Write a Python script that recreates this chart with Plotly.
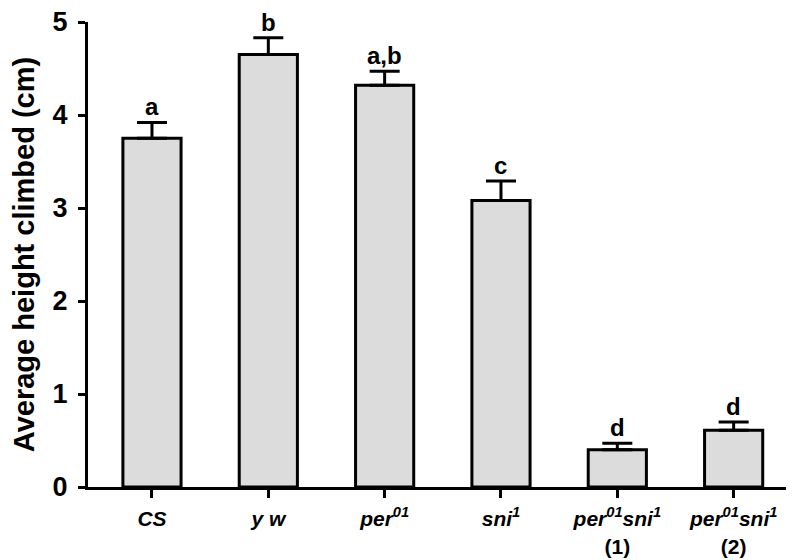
import plotly.graph_objects as go

# data
genotypes = ["CS", "y w", "per01", "sni1", "per01sni1 (1)", "per01sni1 (2)"]
tick_labels = [
    "<b><i>CS</i></b>",
    "<b><i>y w</i></b>",
    "<b><i>per<sup>01</sup></i></b>",
    "<b><i>sni<sup>1</sup></i></b>",
    "<b><i>per<sup>01</sup>sni<sup>1</sup></i><br>(1)</b>",
    "<b><i>per<sup>01</sup>sni<sup>1</sup></i><br>(2)</b>",
]
mean_height = [3.75, 4.65, 4.32, 3.08, 0.40, 0.61]
sem_height = [0.17, 0.18, 0.15, 0.21, 0.07, 0.09]
letters = ["a", "b", "a,b", "c", "d", "d"]

font = "Liberation Sans, Arial, sans-serif"

fig = go.Figure()
fig.add_trace(go.Bar(
    x=genotypes, y=mean_height, width=0.5,
    marker=dict(color="#dcdcdc", line=dict(color="black", width=3)),
    error_y=dict(type="data", symmetric=False, array=sem_height,
                 arrayminus=[0] * len(sem_height),
                 color="black", thickness=3, width=15),
))

for g, m, s, l in zip(genotypes, mean_height, sem_height, letters):
    fig.add_annotation(x=g, y=m + s, text="<b>" + l + "</b>", showarrow=False,
                       yanchor="bottom", yshift=0,
                       font=dict(family=font, size=24, color="black"))

# the page body has an 8px margin, so the figure is 8px smaller each way
fig.update_layout(
    width=792, height=552,
    paper_bgcolor="white", plot_bgcolor="white",
    margin=dict(l=80, r=14, t=14, b=73),
    showlegend=False,
    font=dict(family=font, color="black"),
)
fig.update_xaxes(
    tickmode="array", tickvals=genotypes, ticktext=tick_labels,
    range=[-0.55, 5.45], automargin=False,
    showline=True, linecolor="black", linewidth=3,
    ticks="outside", ticklen=8, tickwidth=3, tickcolor="black",
    ticklabelstandoff=3, ticklabeloverflow="allow",
    tickfont=dict(size=21, family=font), showgrid=False,
)
fig.update_yaxes(
    range=[0, 5], tickvals=[0, 1, 2, 3, 4, 5], automargin=False,
    showline=True, linecolor="black", linewidth=3,
    ticks="outside", ticklen=7, tickwidth=3, tickcolor="black",
    ticklabelstandoff=5, ticklabeloverflow="allow",
    tickfont=dict(size=27, family=font, weight="bold"), showgrid=False, zeroline=False,
    title=dict(text="<b>Average height climbed (cm)</b>", font=dict(size=29, family=font), standoff=14),
)

fig.write_html("out.html")
